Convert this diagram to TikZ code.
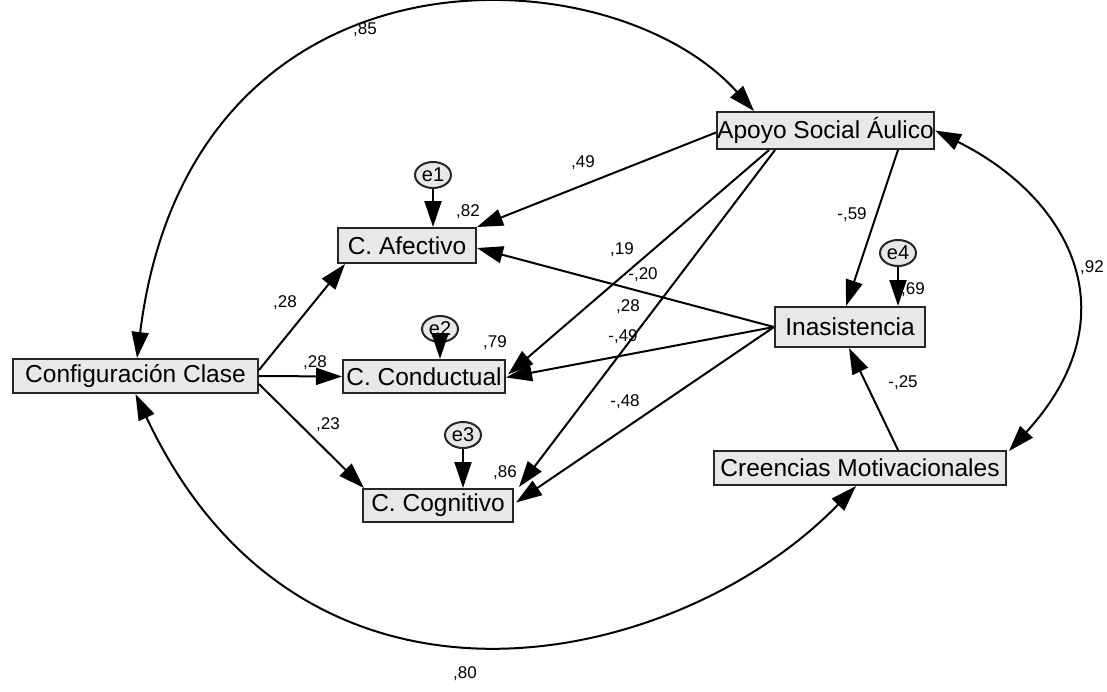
\documentclass[tikz,border=0pt]{standalone}
\usepackage{fontspec}
\setmainfont{Liberation Sans}
\usetikzlibrary{arrows.meta,calc,shapes.geometric}
\definecolor{boxfill}{HTML}{E8E8E8}
\definecolor{boxline}{HTML}{262626}
\begin{document}
\begin{tikzpicture}[x=1pt,y=-1pt,
  var/.style={draw=boxline, line width=2pt, fill=boxfill, inner sep=0pt,
    font=\fontsize{24.5}{28}\selectfont},
  err/.style={ellipse, draw=boxline, line width=2pt, fill=boxfill, inner sep=0pt,
    minimum width=36pt, minimum height=26pt, font=\fontsize{20}{22}\selectfont},
  lbl/.style={font=\fontsize{17}{19}\selectfont, inner sep=0pt},
  path/.style={line width=2pt, -{Triangle[length=26pt,width=17pt]}},
  cov/.style={line width=2pt, {Triangle[length=26pt,width=17pt]}-{Triangle[length=26pt,width=17pt]}},
]
\useasboundingbox (0,0) rectangle (1107,691);

% observed variables
\node[var, minimum width=245pt, minimum height=34pt] (cfg) at (135.5,376) {Configuración Clase};
\node[var, minimum width=138pt, minimum height=35pt] (afe) at (407,245.5) {C. Afectivo};
\node[var, minimum width=162pt, minimum height=33pt] (con) at (424,376.5) {C. Conductual};
\node[var, minimum width=150pt, minimum height=33pt] (cog) at (438,505.5) {C. Cognitivo};
\node[var, minimum width=217pt, minimum height=37pt] (apo) at (825.5,130.5) {Apoyo Social Áulico};
\node[var, minimum width=150pt, minimum height=40pt] (ina) at (850,327) {Inasistencia};
\node[var, minimum width=292pt, minimum height=34pt] (cre) at (860,468) {Creencias Motivacionales};

% error terms
\node[err] (e1) at (433,175) {e1};
\node[err] (e2) at (440,329) {e2};
\node[err] (e3) at (463,435) {e3};
\node[err] (e4) at (898,253) {e4};

% regression paths
\draw[path] ($(cfg.east)+(0,-6)$) -- ($(afe.south west)+(8,0)$);
\draw[path] (cfg.east) -- (con.west);
\draw[path] ($(cfg.east)+(0,8)$) -- ($(cog.north west)+(2,0)$);
\draw[path] ($(apo.west)+(0,2)$) -- (afe.north east);
\draw[path] ($(apo.south west)+(53,0)$) -- ($(con.east)+(2,-2)$);
\draw[path] ($(apo.south west)+(59,0)$) -- ($(cog.north east)+(5,-1)$);
\draw[path] ($(apo.south west)+(182,0)$) -- ($(ina.north west)+(72,0)$);
\draw[path] (ina.west) -- ($(afe.east)+(0,2.5)$);
\draw[path] (ina.west) -- ($(con.east)+(0,1)$);
\draw[path] (ina.west) -- ($(cog.east)+(2,-3)$);
\draw[path] ($(cre.north west)+(185,0)$) -- ($(ina.south west)+(75,0)$);

% error paths
\draw[path] (e1) -- (e1 |- afe.north);
\draw[path] (e2) -- (e2 |- con.north);
\draw[path] (e3) -- (e3 |- cog.north);
\draw[path] (e4) -- (e4 |- ina.north);

% covariances
\draw[cov] ($(cfg.north)+(1.5,0)$) .. controls (190,-68) and (610,-50) .. ($(apo.north west)+(38,0)$);
\draw[cov] (cfg.south) .. controls (305,755) and (680,668) .. ($(cre.south west)+(143,0)$);
\draw[cov] (apo.east) .. controls (1065,195) and (1136,312) .. ($(cre.north east)+(2,1)$);

% estimates
\node[lbl] (l85) at (365,30) {,85};
\node[lbl] (l80) at (465,674) {,80};
\node[lbl] (l92) at (1092,268) {,92};
\node[lbl] (l49) at (583,163) {,49};
\node[lbl] (l82) at (468,212) {,82};
\node[lbl] (l28a) at (285,303) {,28};
\node[lbl] (l28b) at (315,363) {,28};
\node[lbl] (l23) at (328,425) {,23};
\node[lbl] (l19) at (622,250) {,19};
\node[lbl] (l20) at (643,275) {-,20};
\node[lbl] (l28c) at (628,307) {,28};
\node[lbl] (l49b) at (623,337) {-,49};
\node[lbl] (l48) at (625,402) {-,48};
\node[lbl] (l79) at (495,343) {,79};
\node[lbl] (l86) at (505,473) {,86};
\node[lbl] (l59) at (852,215) {-,59};
\node[lbl] (l69) at (913,290) {,69};
\node[lbl] (l25) at (903,383) {-,25};
\end{tikzpicture}
\end{document}
